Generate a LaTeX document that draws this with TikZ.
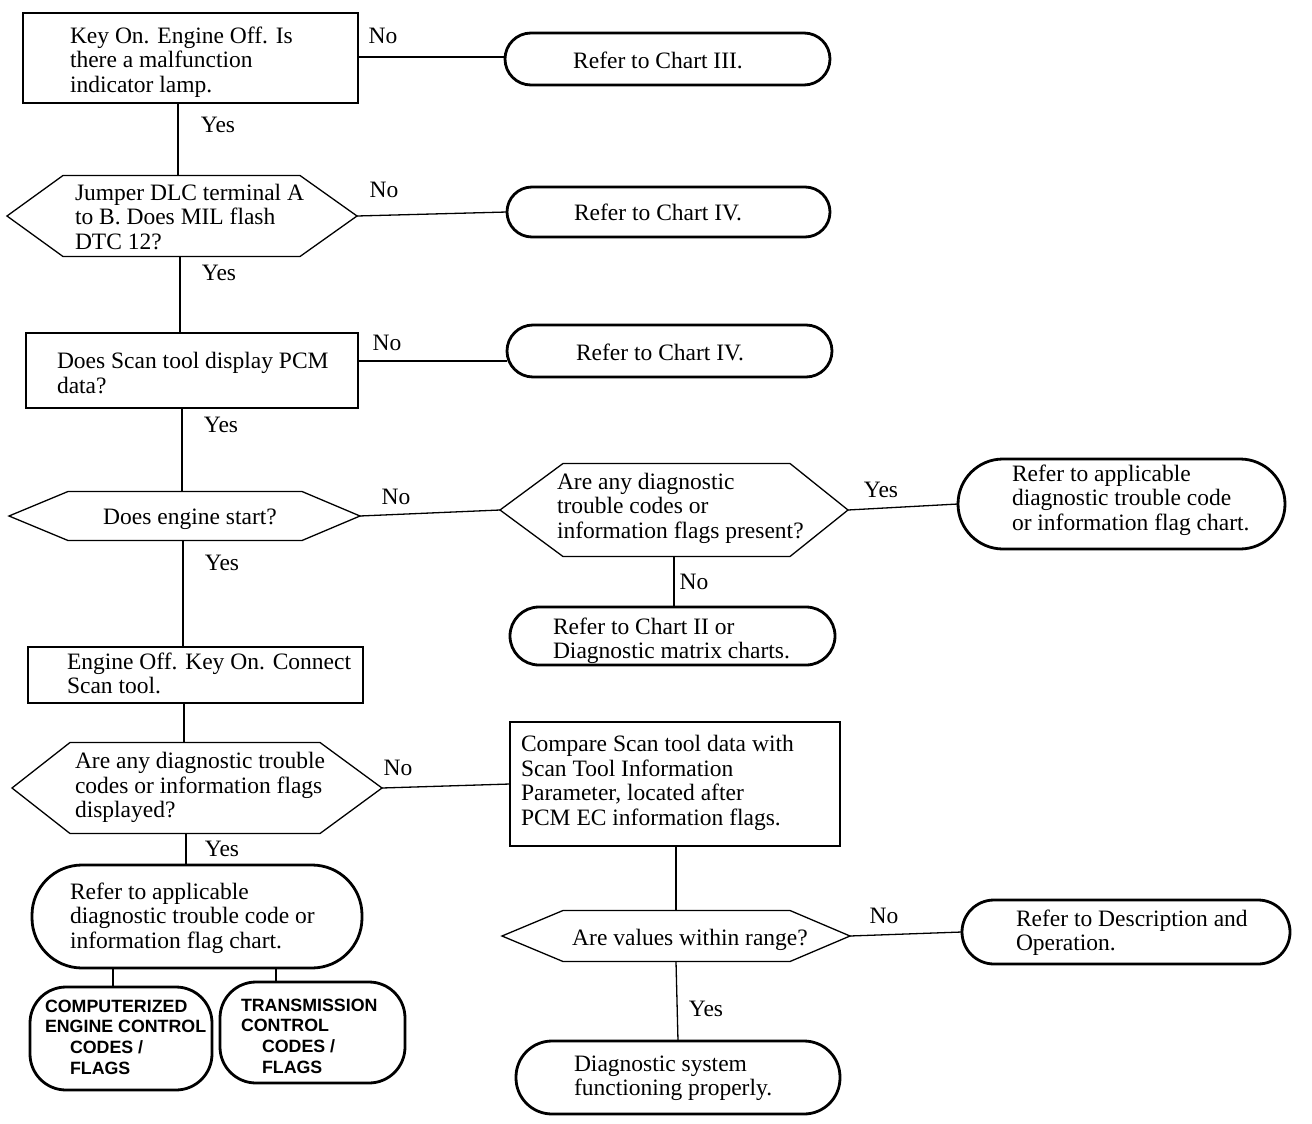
\documentclass[tikz,border=0pt]{standalone}
\usepackage{fontspec}
\setmainfont{Liberation Serif}
\newfontfamily\bsans{Liberation Sans}
\usetikzlibrary{calc}
\tikzset{
  rectbox/.style={draw, rectangle, line width=1.3pt, inner sep=0pt, outer sep=0pt},
  hexn/.style={rectangle, inner sep=0pt, outer sep=0pt},
  hexline/.style={line width=1.3pt, line join=miter},
  oval/.style={draw, rectangle, line width=2.8pt, inner sep=0pt, outer sep=0pt},
  link/.style={line width=1.3pt},
  txt/.style={inner sep=0pt, outer sep=0pt, align=left, anchor=west, font=\fontsize{23.5}{24.5}\selectfont},
  ctxt/.style={inner sep=0pt, outer sep=0pt, font=\fontsize{23.5}{24.5}\selectfont},
  lbl/.style={inner sep=0pt, outer sep=0pt, font=\fontsize{23.5}{24.5}\selectfont},
  capt/.style={inner sep=0pt, outer sep=0pt, align=left, anchor=west, font=\bsans\bfseries\fontsize{17.8}{20.7}\selectfont},
}
\newcommand\hexdraw[3]{\draw[hexline] (#1.west) -- ([xshift=#2]#1.north west) -- ([xshift=-#3]#1.north east) -- (#1.east) -- ([xshift=-#3]#1.south east) -- ([xshift=#2]#1.south west) -- cycle;}
\begin{document}
\begin{tikzpicture}[x=1pt,y=-1pt]
\useasboundingbox (0,0) rectangle (1312,1124);
% ---------- shapes ----------
\node[rectbox, minimum width=335pt, minimum height=90pt] (b1) at (190.5,58) {};
\node[oval, rounded corners=26pt, minimum width=325pt, minimum height=52pt] (o1) at (667.5,59) {};
\node[hexn, minimum width=350pt, minimum height=81pt] (d2) at (182,216) {};
\hexdraw{d2}{56pt}{57pt}
\node[oval, rounded corners=25pt, minimum width=323pt, minimum height=50pt] (o2) at (668.5,212) {};
\node[rectbox, minimum width=332pt, minimum height=75pt] (b3) at (192,370.5) {};
\node[oval, rounded corners=26pt, minimum width=325pt, minimum height=52pt] (o3) at (669.5,351) {};
\node[hexn, minimum width=351pt, minimum height=49pt] (d4) at (184.5,516) {};
\hexdraw{d4}{59pt}{58pt}
\node[hexn, minimum width=348pt, minimum height=93pt] (d5) at (674,510) {};
\hexdraw{d5}{63pt}{58pt}
\node[oval, rounded corners=45pt, minimum width=327pt, minimum height=90pt] (o5) at (1121.5,504) {};
\node[oval, rounded corners=29pt, minimum width=325pt, minimum height=58pt] (o6) at (672.5,636) {};
\node[rectbox, minimum width=335pt, minimum height=56pt] (b7) at (195.5,675) {};
\node[hexn, minimum width=370pt, minimum height=91pt] (d8) at (197,788) {};
\hexdraw{d8}{58pt}{62pt}
\node[rectbox, minimum width=330pt, minimum height=124pt] (b9) at (675,784) {};
\node[hexn, minimum width=348pt, minimum height=51pt] (d10) at (676,936) {};
\hexdraw{d10}{61pt}{60pt}
\node[oval, rounded corners=32pt, minimum width=328pt, minimum height=64pt] (o11) at (1126,932) {};
\node[oval, rounded corners=36pt, minimum width=324pt, minimum height=73pt] (o12) at (678,1077.5) {};
\node[oval, rounded corners=50pt, minimum width=330pt, minimum height=103pt] (o13) at (197,916.5) {};
\node[oval, rounded corners=36pt, minimum width=182pt, minimum height=103pt] (c14) at (121,1038.5) {};
\node[oval, rounded corners=36pt, minimum width=185pt, minimum height=101pt] (c15) at (312.5,1032.5) {};
% ---------- texts ----------
\node[txt] (t1) at (70,62) {Key On. Engine Off. Is\\there a malfunction\\indicator lamp.};
\node[ctxt] (to1) at (658,60) {Refer to Chart III.};
\node[txt] (t2) at (75,217) {Jumper DLC terminal A\\to B. Does MIL flash\\DTC 12?};
\node[ctxt] (to2) at (658,212) {Refer to Chart IV.};
\node[txt] (t3) at (57,373) {Does Scan tool display PCM\\data?};
\node[ctxt] (to3) at (660,352) {Refer to Chart IV.};
\node[ctxt] (t4) at (190,519) {Does engine start?};
\node[txt] (t5) at (557,508) {Are any diagnostic\\trouble codes or\\information flags present?};
\node[txt] (to5) at (1012,500) {Refer to applicable\\diagnostic trouble code\\or information flag chart.};
\node[txt] (to6) at (553,641) {Refer to Chart II or\\Diagnostic matrix charts.};
\node[txt] (t7) at (67,673.5) {Engine Off. Key On. Connect\\Scan tool.};
\node[txt] (t8) at (75,787.5) {Are any diagnostic trouble\\codes or information flags\\displayed?};
\node[txt] (t9) at (521,783) {Compare Scan tool data with\\Scan Tool Information\\Parameter, located after\\PCM EC information flags.};
\node[ctxt] (t10) at (690,940) {Are values within range?};
\node[txt] (to11) at (1016,932.5) {Refer to Description and\\Operation.};
\node[txt] (to12) at (574,1078) {Diagnostic system\\functioning properly.};
\node[txt] (to13) at (70,918) {Refer to applicable\\diagnostic trouble code or\\information flag chart.};
\node[capt] (tc14) at (45,1037) {COMPUTERIZED\\ENGINE CONTROL\\\hspace*{25pt}CODES /\\\hspace*{25pt}FLAGS};
\node[capt] (tc15) at (241,1036) {TRANSMISSION\\CONTROL\\\hspace*{21pt}CODES /\\\hspace*{21pt}FLAGS};
% ---------- labels ----------
\node[lbl] (l1) at (383,36) {No};
\node[lbl] (l2) at (218,125) {Yes};
\node[lbl] (l3) at (384,190) {No};
\node[lbl] (l4) at (219,273) {Yes};
\node[lbl] (l5) at (387,343) {No};
\node[lbl] (l6) at (221,425) {Yes};
\node[lbl] (l7) at (396,497) {No};
\node[lbl] (l8) at (881,490) {Yes};
\node[lbl] (l9) at (694,582) {No};
\node[lbl] (l10) at (222,563) {Yes};
\node[lbl] (l11) at (398,768) {No};
\node[lbl] (l12) at (222,849) {Yes};
\node[lbl] (l13) at (884,916) {No};
\node[lbl] (l14) at (706,1009) {Yes};
% ---------- connector guides ----------
\coordinate (v1) at (178,0);
\coordinate (v2) at (180,0);
\coordinate (v3) at (182,0);
\coordinate (v4) at (183,0);
\coordinate (v5) at (184,0);
\coordinate (v6) at (186,0);
\coordinate (v7) at (113,0);
\coordinate (v8) at (276,0);
\coordinate (v9) at (676,0);
\coordinate (h1) at (0,57);
\coordinate (h3) at (0,361);
% ---------- connectors ----------
\draw[link] (b1.east |- h1) -- (o1.west |- h1);
\draw[link] (b1.south -| v1) -- (d2.north -| v1);
\draw[link] (d2.east) -- (o2.west);
\draw[link] (d2.south -| v2) -- (b3.north -| v2);
\draw[link] (b3.east |- h3) -- (o3.west |- h3);
\draw[link] (b3.south -| v3) -- (d4.north -| v3);
\draw[link] (d4.east) -- (d5.west);
\draw[link] (d5.east) -- (o5.west);
\draw[link] (d5.south) -- (d5.south |- o6.north);
\draw[link] (d4.south -| v4) -- (b7.north -| v4);
\draw[link] (b7.south -| v5) -- (d8.north -| v5);
\draw[link] (d8.east) -- (b9.west);
\draw[link] (b9.south -| v9) -- (d10.north -| v9);
\draw[link] (d10.east) -- (o11.west);
\draw[link] (d10.south) -- (o12.north);
\draw[link] (d8.south -| v6) -- (o13.north -| v6);
\draw[line width=2.4pt] (o13.south -| v7) -- (c14.north -| v7);
\draw[line width=2.4pt] (o13.south -| v8) -- (c15.north -| v8);
\end{tikzpicture}
\end{document}
